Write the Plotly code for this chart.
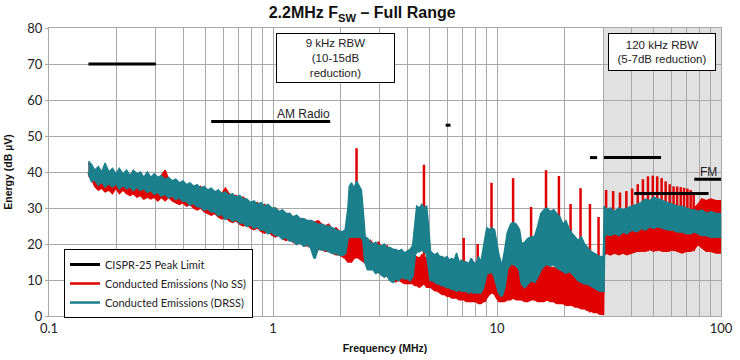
import plotly.graph_objects as go

# ---------------- data ----------------
# frequency points (MHz) for the envelope of both traces
freq = [
    0.150, 0.155, 0.160, 0.166, 0.172, 0.178, 0.185, 0.192, 0.199, 0.206,
    0.214, 0.222, 0.230, 0.238, 0.247, 0.256, 0.265, 0.275, 0.285, 0.295,
    0.306, 0.317, 0.330, 0.342, 0.355, 0.368, 0.382, 0.396, 0.411, 0.426,
    0.442, 0.458, 0.475, 0.493, 0.511, 0.530, 0.550, 0.570, 0.591, 0.613,
    0.636, 0.660, 0.684, 0.710, 0.736, 0.764, 0.792, 0.822, 0.852, 0.884,
    0.917, 0.951, 0.987, 1.024, 1.062, 1.102, 1.143, 1.186, 1.230, 1.276,
    1.324, 1.373, 1.425, 1.478, 1.533, 1.590, 1.650, 1.711, 1.775, 1.841,
    1.910, 1.982, 2.056,
    2.10, 2.16, 2.19, 2.24, 2.30, 2.36, 2.42, 2.48, 2.53, 2.58, 2.65,
    2.72, 2.80, 2.88, 2.96, 3.05, 3.14, 3.23, 3.33, 3.43, 3.53,
    3.64, 3.75, 3.86, 3.97, 4.09, 4.20, 4.30, 4.38, 4.50, 4.62,
    4.72, 4.85, 4.95, 5.05,
    5.15, 5.28, 5.41, 5.55, 5.69, 5.83, 5.98, 6.13, 6.28, 6.44,
    6.60, 6.77, 6.94, 7.12, 7.30, 7.48, 7.67, 7.86, 8.06, 8.26,
    8.47, 8.68,
    8.85, 9.00, 9.25, 9.50, 9.75, 9.95, 10.2, 10.5, 10.8, 11.1,
    11.5, 11.8, 12.2, 12.6, 12.9, 13.3, 13.7, 14.2, 14.7, 15.2,
    15.7, 16.2, 16.7, 17.3, 17.9, 18.5, 19.1, 19.7, 20.3, 20.9,
    21.6, 22.3, 23.0, 23.8, 24.6, 25.4, 26.2, 27.0, 27.9, 28.8,
    29.9,
    30.1, 31.0, 32.0, 33.5, 35.0, 36.5, 38.0, 40.0, 42.0, 44.0,
    46.0, 48.0, 50.0, 52.0, 55.0, 58.0, 61.0, 64.0, 67.0, 70.0,
    73.0, 76.0, 79.0, 82.0, 86.0, 90.0, 95.0, 100.0,
]

# Conducted Emissions (DRSS) - lower / upper envelope (dBuV)
drss_low = [
    40.0, 37.5, 38.0, 36.5, 37.5, 36.0, 37.0, 36.0, 37.0, 35.5,
    36.5, 35.5, 36.0, 35.0, 36.0, 35.0, 35.5, 34.5, 35.0, 34.0,
    34.5, 33.5, 34.0, 33.0, 33.5, 32.5, 33.0, 32.0, 32.0, 31.0,
    31.5, 30.5, 30.5, 29.5, 30.0, 29.0, 29.0, 28.0, 28.5, 27.0,
    27.5, 26.5, 27.0, 26.0, 26.0, 25.0, 25.5, 24.5, 25.0, 24.0,
    24.0, 23.0, 23.5, 22.5, 22.5, 21.5, 22.0, 21.0, 21.0, 20.0,
    20.5, 19.5, 20.0, 19.0, 16.0, 19.0, 18.5, 18.5, 18.0, 17.5,
    17.5, 17.0, 17.0,
    17.5, 22.0, 22.0, 22.0, 22.0, 22.0, 22.0, 22.0, 21.0, 15.0, 13.0,
    13.0, 13.0, 12.0, 12.5, 11.5, 11.0, 11.5, 10.0, 9.5, 10.5,
    10.0, 11.0, 10.5, 10.5, 10.0, 11.0, 17.0, 18.0, 18.0, 18.5,
    18.0, 17.5, 14.0, 10.0,
    10.0, 9.5, 9.0, 9.0, 8.5, 8.5, 8.0, 8.0, 7.5, 7.5,
    7.0, 7.5, 7.0, 7.0, 7.0, 6.5, 7.0, 6.5, 6.5, 6.5,
    6.5, 8.0,
    10.0, 12.0, 12.0, 12.5, 11.0, 9.0, 6.5, 5.5, 8.0, 13.0,
    14.5, 14.5, 14.0, 13.0, 9.0, 8.0, 9.0, 10.0, 9.5, 11.0,
    13.0, 14.0, 14.5, 14.0, 14.5, 13.5, 13.0, 12.5, 12.0, 12.5,
    12.0, 11.0, 10.0, 9.5, 9.0, 9.0, 8.5, 8.0, 7.5, 7.0,
    7.0,
    22.0, 23.0, 22.5, 23.0, 22.5, 23.5, 23.0, 24.0, 23.5, 24.5,
    24.0, 25.0, 24.5, 25.0, 24.5, 24.0, 24.0, 23.5, 23.5, 23.0,
    23.0, 23.5, 23.0, 22.5, 22.5, 22.0, 22.0, 22.0,
]
drss_high = [
    43.0, 42.0, 40.5, 41.5, 40.0, 42.5, 40.0, 41.0, 39.5, 41.0,
    39.5, 40.5, 39.0, 40.5, 39.5, 40.0, 38.5, 40.0, 38.5, 39.5,
    38.5, 39.0, 38.0, 38.5, 37.5, 38.0, 37.0, 37.5, 36.5, 37.0,
    36.0, 36.5, 35.5, 36.0, 35.0, 35.5, 34.5, 35.0, 34.0, 34.5,
    33.5, 34.0, 33.0, 33.5, 32.5, 32.5, 31.5, 32.0, 31.0, 31.5,
    30.5, 31.0, 30.0, 30.0, 29.0, 29.5, 28.5, 28.5, 27.5, 28.0,
    27.0, 27.0, 26.5, 26.5, 26.0, 25.5, 25.5, 25.0, 25.0, 24.5,
    24.0, 23.5, 23.5,
    24.0, 30.0, 36.0, 37.0, 35.5, 37.5, 36.0, 35.0, 29.0, 22.0, 21.5,
    20.5, 20.0, 20.5, 19.5, 19.5, 20.0, 19.0, 19.0, 18.5, 18.5,
    18.0, 18.5, 17.5, 18.0, 18.5, 19.5, 26.0, 30.5, 30.0, 31.0,
    30.0, 30.5, 25.0, 18.0,
    17.5, 17.0, 17.5, 16.5, 16.5, 16.0, 16.5, 15.5, 16.0, 15.5,
    17.5, 15.0, 15.5, 15.0, 15.0, 14.5, 16.0, 15.0, 14.5, 16.5,
    15.0, 19.0,
    23.0, 24.5, 24.0, 24.5, 24.0, 21.0, 17.0, 14.0, 18.0, 23.0,
    25.5, 26.0, 25.5, 24.0, 20.0, 20.5, 21.5, 22.0, 22.0, 25.0,
    28.5, 29.5, 30.0, 29.0, 29.5, 28.5, 27.5, 25.5, 26.5, 24.5,
    23.0, 22.0, 21.0, 22.0, 20.0, 19.0, 18.0, 17.5, 17.0, 16.5,
    16.5,
    30.5, 29.5, 30.0, 29.0, 30.0, 29.5, 30.0, 30.5, 31.0, 31.5,
    32.5, 32.0, 33.0, 32.5, 32.0, 31.5, 31.0, 30.5, 30.5, 30.0,
    29.5, 29.5, 29.0, 29.5, 28.5, 29.0, 28.5, 28.5,
]

# Conducted Emissions (No SS) - lower / upper envelope (dBuV)
nss_low = [
    39.0, 38.0, 36.0, 35.0, 35.5, 34.5, 35.0, 34.0, 35.5, 34.0,
    35.0, 34.0, 33.5, 34.0, 33.0, 33.5, 32.5, 33.0, 32.5, 33.0,
    32.0, 33.0, 32.0, 33.0, 32.0, 31.5, 31.0, 31.5, 30.5, 31.0,
    30.0, 29.5, 30.0, 29.0, 28.5, 28.0, 28.5, 27.5, 27.0, 27.5,
    26.5, 26.0, 26.5, 25.5, 25.0, 25.5, 24.5, 24.0, 24.5, 23.5,
    23.0, 23.5, 22.5, 22.0, 22.5, 21.5, 21.0, 21.5, 20.5, 20.0,
    20.5, 19.5, 19.5, 19.0, 19.0, 18.5, 18.5, 18.0, 18.0, 17.5,
    17.0, 17.0, 16.5,
    16.0, 15.0, 15.0, 15.0, 16.0, 16.5, 16.0, 15.5, 15.0, 14.5, 14.0,
    13.5, 13.0, 12.5, 12.0, 12.0, 11.5, 11.0, 10.5, 10.0, 9.5,
    10.0, 9.5, 9.0, 9.0, 9.0, 9.0, 8.5, 8.5, 8.0, 8.5,
    9.0, 8.0, 8.0, 8.0,
    7.5, 7.0, 7.0, 6.5, 6.0, 6.0, 5.5, 5.5, 5.0, 5.0,
    5.0, 4.5, 4.5, 4.5, 4.0, 4.0, 4.0, 4.0, 4.0, 3.5,
    3.5, 4.0,
    4.0, 5.0, 6.0, 6.5, 6.0, 5.0, 4.0, 4.0, 4.0, 4.5,
    4.5, 5.0, 4.5, 4.5, 4.5, 4.0, 4.0, 4.5, 4.5, 4.0,
    4.0, 4.0, 4.5, 4.0, 4.0, 3.5, 3.5, 3.5, 3.0, 3.0,
    3.0, 2.5, 2.5, 2.0, 2.0, 1.5, 1.5, 1.0, 1.0, 0.5,
    0.5,
    17.0, 17.5, 17.0, 17.5, 17.0, 17.5, 17.0, 17.5, 18.0, 18.0,
    18.0, 18.5, 18.0, 18.5, 18.0, 18.0, 18.5, 18.0, 17.5, 18.0,
    18.0, 18.5, 20.0, 19.0, 18.0, 18.0, 17.5, 17.5,
]
nss_high = [
    42.5, 41.0, 40.0, 38.5, 39.5, 38.0, 39.0, 38.5, 39.0, 37.5,
    39.0, 38.0, 38.5, 37.5, 38.0, 39.0, 37.0, 38.0, 37.5, 38.0,
    37.0, 39.0, 40.5, 38.0, 37.0, 37.5, 36.0, 37.0, 36.0, 36.5,
    35.5, 35.0, 36.0, 34.5, 35.0, 34.0, 34.5, 33.5, 34.0, 35.5,
    34.0, 33.0, 33.5, 32.5, 33.0, 32.0, 31.5, 31.0, 31.5, 30.5,
    31.0, 30.0, 29.5, 30.0, 29.0, 28.5, 28.0, 28.5, 27.0, 27.5,
    26.5, 27.0, 26.0, 26.5, 26.0, 26.5, 25.5, 25.0, 25.5, 24.0,
    24.5, 23.5, 23.0,
    23.0, 22.0, 22.0, 23.0, 24.0, 25.5, 24.0, 23.0, 21.0, 21.0, 20.5,
    21.0, 20.0, 19.5, 20.5, 19.0, 18.5, 19.5, 18.0, 18.5, 17.5,
    18.0, 17.0, 17.5, 17.5, 17.0, 16.5, 16.0, 16.5, 16.0, 17.0,
    16.5, 16.0, 15.0, 14.0,
    14.0, 14.5, 13.5, 13.5, 13.0, 13.5, 12.5, 13.0, 12.5, 12.0,
    12.5, 12.0, 12.0, 12.0, 11.5, 11.5, 11.0, 11.5, 11.0, 11.0,
    11.0, 11.5,
    12.0, 14.0, 16.0, 16.5, 15.5, 14.0, 12.0, 12.0, 12.5, 14.0,
    15.0, 16.5, 15.5, 14.0, 13.0, 12.5, 13.0, 13.0, 12.5, 13.0,
    13.5, 13.5, 14.0, 13.5, 13.5, 13.0, 13.0, 12.5, 12.0, 12.0,
    12.0, 11.0, 11.0, 10.5, 10.0, 10.0, 10.0, 10.0, 10.0, 10.0,
    10.0,
    26.0, 27.0, 27.5, 27.0, 28.0, 27.5, 28.0, 28.0, 28.5, 29.0,
    29.0, 29.5, 30.0, 29.5, 29.5, 29.0, 29.0, 29.0, 29.0, 28.5,
    29.0, 30.0, 31.0, 32.5, 32.0, 32.5, 32.0, 32.0,
]

# narrow-band harmonic spikes of the No SS measurement
spike_freq = [2.36, 4.72, 7.10, 8.20, 9.45, 11.8, 14.2, 16.55, 18.9, 21.3,
              23.6, 26.0, 28.4, 30.7, 33.0, 35.4, 37.8, 40.1, 42.5, 44.8,
              47.2, 49.6, 51.9, 54.3, 56.6, 59.0, 61.4, 63.7, 66.1, 68.4,
              70.8, 73.2, 75.5]
spike_top = [46.6, 42.0, 21.7, 20.0, 37.0, 38.3, 30.3, 40.5, 38.9, 31.1,
             35.5, 31.1, 27.5, 35.0, 34.7, 34.3, 34.7, 35.4, 36.6, 38.0,
             38.8, 39.0, 38.8, 38.3, 37.4, 36.6, 36.0, 36.0, 35.8, 35.6,
             35.4, 35.0, 34.3]
spike_base = [16, 9, 5, 4, 7, 5, 5, 5, 4, 3,
              2, 1, 1, 18, 18, 18, 18, 18, 18, 18,
              18, 18, 18, 18, 18, 18, 18, 18, 18, 18,
              18, 18, 18]

# CISPR-25 peak limit segments (start MHz, stop MHz, level dBuV)
limit_start = [0.15, 0.53, 5.9, 26.0, 30.0, 41.0, 76.0]
limit_stop = [0.30, 1.8, 6.2, 28.0, 54.0, 88.0, 108.0]
limit_level = [70, 54, 53, 44, 44, 34, 38]

x_ticks = [0.1, 1, 10, 100]
x_ticktext = ["0.1", "1", "10", "100"]

# ---------------- figure ----------------
RED = "#e00000"
TEAL = "#1b7f8c"

fig = go.Figure()

fig.add_trace(go.Scatter(x=freq, y=nss_low, mode="lines",
                         line=dict(color=RED, width=1.5),
                         showlegend=False, hoverinfo="skip"))
fig.add_trace(go.Scatter(x=freq, y=nss_high, mode="lines", fill="tonexty",
                         fillcolor=RED, line=dict(color=RED, width=1.5),
                         showlegend=False, hoverinfo="skip"))

sx, sy = [], []
for f, b, t in zip(spike_freq, spike_base, spike_top):
    sx += [f, f, None]
    sy += [b, t, None]
fig.add_trace(go.Scatter(x=sx, y=sy, mode="lines",
                         line=dict(color=RED, width=2.5),
                         name="Conducted Emissions (No SS)", legendrank=2))

fig.add_trace(go.Scatter(x=freq, y=drss_low, mode="lines",
                         line=dict(color=TEAL, width=2.5),
                         name="Conducted Emissions (DRSS)", legendrank=3))
fig.add_trace(go.Scatter(x=freq, y=drss_high, mode="lines", fill="tonexty",
                         fillcolor=TEAL, line=dict(color=TEAL, width=1.5),
                         showlegend=False, hoverinfo="skip"))

lx, ly = [], []
for a, b, v in zip(limit_start, limit_stop, limit_level):
    lx += [a, b, None]
    ly += [v, v, None]
fig.add_trace(go.Scatter(x=lx, y=ly, mode="lines",
                         line=dict(color="black", width=3),
                         name="CISPR-25 Peak Limit", legendrank=1))

fig.add_shape(type="rect", xref="x", yref="paper", x0=30, x1=100, y0=0, y1=1,
              fillcolor="#e1e1e1", line=dict(width=0), layer="below")

GRID = "#a8a8a8"
fig.update_xaxes(type="log", range=[-1, 2], tickvals=x_ticks, ticktext=x_ticktext,
                 showgrid=True, gridcolor=GRID, gridwidth=1,
                 minor=dict(dtick="D1", showgrid=True, gridcolor=GRID, gridwidth=1),
                 showline=True, linecolor=GRID, mirror=True, ticks="",
                 automargin=False,
                 tickfont=dict(family="Lato, sans-serif", size=13, color="#222"),
                 title=dict(text="Frequency (MHz)", standoff=10,
                            font=dict(family="Liberation Sans, Arial", size=10.5,
                                      color="#111", weight="bold")),
                 zeroline=False)
fig.update_yaxes(range=[0, 80], dtick=10, showgrid=True, gridcolor=GRID, gridwidth=1,
                 showline=True, linecolor=GRID, mirror=True,
                 ticks="outside", ticklen=3, tickcolor=GRID,
                 automargin=False,
                 tickfont=dict(family="Lato, sans-serif", size=13, color="#222"),
                 title=dict(text="Energy (dB µV)", standoff=12,
                            font=dict(family="Liberation Sans, Arial", size=10.5,
                                      color="#111", weight="bold")),
                 zeroline=False)

ANN_FONT = dict(family="Liberation Sans, Arial", size=11.5, color="#222")
fig.add_annotation(text="9 kHz RBW<br>(10-15dB<br>reduction)", xref="paper", yref="paper",
                   x=0.426, y=0.983, xanchor="center", yanchor="top", showarrow=False,
                   bordercolor="black", borderwidth=1, bgcolor="white",
                   width=115, height=46, borderpad=1, font=ANN_FONT)
fig.add_annotation(text="120 kHz RBW<br>(5-7dB reduction)", xref="paper", yref="paper",
                   x=0.912, y=0.983, xanchor="center", yanchor="top", showarrow=False,
                   bordercolor="black", borderwidth=1, bgcolor="white",
                   width=104, height=34, borderpad=1, font=ANN_FONT)
fig.add_annotation(text="AM Radio", xref="paper", yref="paper", x=0.378, y=0.701,
                   xanchor="center", yanchor="middle", showarrow=False,
                   font=dict(family="Liberation Sans, Arial", size=12, color="#222"))
fig.add_annotation(text="FM", xref="paper", yref="paper", x=0.981, y=0.5,
                   xanchor="center", yanchor="middle", showarrow=False,
                   font=dict(family="Liberation Sans, Arial", size=12, color="#222"))

fig.update_layout(
    width=740, height=360,
    margin=dict(l=49, r=19, t=28, b=44, autoexpand=False),
    paper_bgcolor="white", plot_bgcolor="white",
    title=dict(text="<b>2.2MHz F<sub>SW</sub> – Full Range</b>", xref="paper", x=0.466,
               xanchor="center", yref="container", y=0.965, yanchor="middle",
               automargin=False,
               font=dict(family="Liberation Sans, Arial", size=16, color="#111")),
    legend=dict(x=0.0223, y=0.2326, xanchor="left", yanchor="top",
                traceorder="normal",
                bgcolor="white", bordercolor="black", borderwidth=1,
                itemwidth=30, tracegroupgap=0,
                font=dict(family="Lato, sans-serif", size=11, color="#222")),
    showlegend=True,
)

# remove the browser's default 8px page margin so the figure sits at (0, 0)
fig.write_html("out.html",
               config={"displayModeBar": False},
               post_script="document.body.style.margin='0px';"
                           "document.body.style.overflow='hidden';")
